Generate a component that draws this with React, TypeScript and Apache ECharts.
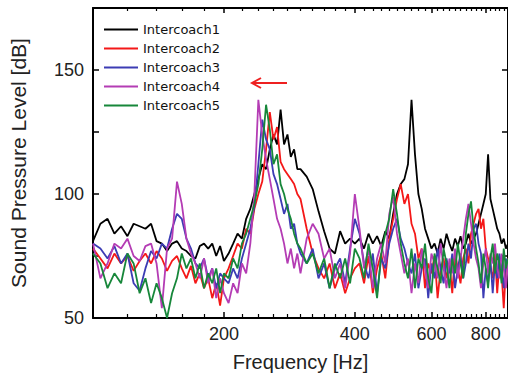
import React, { useEffect, useRef } from 'react';
import * as echarts from 'echarts';

// Frequency grid (Hz)
const freqHz = [
  100, 104, 108, 112, 116, 120, 124, 128, 132, 136, 140, 144, 148, 152, 156, 160, 164, 168, 172, 176, 180, 184, 188, 192, 196, 200,
  205, 210, 215, 220, 225, 230, 235, 240, 245, 250, 255, 260, 265, 270, 275, 280, 285, 290, 295, 300,
  310, 320, 330, 340, 350, 360, 370, 380, 390, 400,
  410, 420, 430, 440, 450, 460, 470, 480, 490, 500, 510, 520, 530, 540, 550, 560, 570, 580, 590, 600,
  610, 620, 630, 640, 650, 660, 670, 680, 690, 700, 710, 720, 730, 740, 750, 760, 770, 780, 790, 800,
  810, 820, 830, 840, 850, 860, 870, 880, 890, 900,
];

// Sound pressure level (dB)
const intercoach1 = [
  81, 88, 90, 84, 87, 83, 88, 87, 86, 88, 81, 80, 77, 80, 81, 78, 77, 75, 74, 79, 80, 78, 80, 75, 79, 73,
  76, 80, 84, 82, 90, 94, 100, 106, 112, 110, 118, 124, 120, 134, 120, 124, 115, 118, 110, 110,
  107, 102, 93, 85, 78, 76, 85, 80, 82, 80,
  82, 78, 84, 80, 83, 79, 85, 82, 92, 100, 104, 106, 112, 138, 116, 100, 94, 86, 82, 78,
  80, 76, 82, 78, 84, 80, 77, 82, 79, 83, 78, 80, 84, 80, 82, 84, 88, 92, 96, 100,
  116, 98, 94, 90, 86, 84, 80, 82, 78, 80,
];
const intercoach2 = [
  78, 74, 70, 76, 72, 75, 69, 73, 76, 72, 77, 74, 69, 73, 75, 70, 66, 71, 64, 68, 62, 66, 58, 64, 55, 66,
  70, 75, 80, 78, 86, 84, 94, 100, 105, 118, 133, 122, 127, 113, 110, 108, 106, 104, 100, 98,
  86, 76, 70, 66, 72, 62, 68, 60, 66, 70,
  72, 64, 75, 60, 70, 76, 66, 82, 90, 98, 104, 96, 100, 88, 84, 74, 78, 62, 72, 68,
  75, 58, 70, 74, 66, 72, 60, 76, 70, 64, 74, 78, 72, 84, 88, 92, 94, 86, 90, 78,
  74, 70, 66, 76, 60, 72, 68, 54, 70, 74,
];
const intercoach3 = [
  80, 78, 74, 79, 72, 76, 64, 61, 70, 77, 74, 80, 78, 86, 92, 90, 82, 78, 72, 70, 74, 66, 70, 62, 68, 66,
  64, 70, 66, 74, 80, 86, 95, 112, 130, 122, 118, 108, 104, 98, 92, 96, 86, 88, 80, 76,
  72, 78, 66, 72, 62, 70, 74, 64, 78, 90,
  84, 72, 66, 76, 60, 74, 70, 80, 86, 90, 82, 78, 72, 68, 76, 62, 70, 74, 58, 72,
  66, 78, 70, 64, 74, 68, 76, 62, 70, 76, 66, 72, 80, 74, 86, 88, 80, 76, 58, 70,
  64, 74, 60, 72, 66, 76, 70, 62, 74, 68,
];
const intercoach4 = [
  80, 66, 72, 80, 78, 82, 75, 73, 79, 80, 72, 54, 78, 82, 105, 96, 82, 76, 72, 66, 74, 64, 70, 58, 66, 60,
  56, 64, 60, 72, 68, 80, 100, 138, 124, 114, 106, 98, 90, 86, 80, 72, 78, 70, 76, 68,
  82, 88, 84, 74, 78, 66, 72, 62, 76, 100,
  86, 70, 78, 62, 74, 80, 72, 92, 99, 84, 76, 68, 74, 60, 72, 64, 78, 70, 62, 76,
  72, 66, 80, 70, 62, 74, 68, 78, 66, 74, 82, 90, 96, 88, 80, 74, 70, 62, 72, 78,
  68, 76, 72, 80, 70, 66, 76, 70, 62, 72,
];
const intercoach5 = [
  76, 72, 62, 68, 64, 76, 72, 60, 66, 56, 64, 58, 50, 60, 66, 76, 70, 74, 66, 72, 62, 68, 64, 70, 60, 68,
  66, 74, 70, 80, 84, 90, 96, 104, 118, 136, 126, 112, 116, 104, 100, 94, 90, 84, 80, 78,
  72, 76, 68, 74, 62, 72, 66, 74, 64, 78,
  74, 66, 80, 70, 58, 76, 84, 90, 102, 92, 80, 72, 66, 78, 62, 74, 70, 80, 66, 60,
  76, 70, 64, 78, 72, 62, 74, 68, 80, 72, 66, 84, 92, 97, 86, 78, 72, 64, 76, 70,
  62, 74, 80, 68, 76, 72, 64, 78, 70, 74,
];

const seriesNames = ['Intercoach1', 'Intercoach2', 'Intercoach3', 'Intercoach4', 'Intercoach5'];
const seriesValues = [intercoach1, intercoach2, intercoach3, intercoach4, intercoach5];
const seriesColors = ['#000000', '#f41818', '#3c3cb4', '#b43cb4', '#17873a'];

const xMajorTicks = [200, 400, 600, 800];
const xMinorTicks = [
  120, 140, 160, 180, 220, 240, 260, 280, 300, 320, 340, 360, 380,
  420, 440, 460, 480, 500, 520, 540, 560, 580, 620, 640, 660, 680, 700, 720, 740, 760, 780,
  820, 840, 860, 880, 900,
];
const yLabelValues = [50, 100, 150];

const FONT = 'Liberation Sans, Arial, sans-serif';

export default function App() {
  const ref = useRef<HTMLDivElement>(null);
  useEffect(() => {
    if (!ref.current) return;
    const chart = echarts.init(ref.current, undefined, { renderer: 'svg' });
    const xBase = { type: 'log', logBase: 10, min: 100, max: 900, gridIndex: 0, splitLine: { show: false }, minorTick: { show: false } };
    const axisLineStyle = { show: true, lineStyle: { color: '#000', width: 2 } };
    const option: any = {
      animation: false,
      backgroundColor: '#fff',
      grid: { left: 91, top: 8, width: 418, height: 310 },
      legend: {
        data: seriesNames,
        orient: 'vertical',
        left: 99,
        top: 18,
        itemWidth: 34,
        itemHeight: 2,
        itemGap: 6,
        icon: 'rect',
        textStyle: { fontFamily: 'DejaVu Sans, sans-serif', fontSize: 13, color: '#111' },
      },
      xAxis: [
        {
          ...xBase,
          position: 'bottom',
          axisLine: axisLineStyle,
          axisTick: { show: true, inside: true, length: 6, customValues: xMajorTicks, lineStyle: { color: '#000', width: 1.5 } },
          axisLabel: { customValues: xMajorTicks, fontFamily: FONT, fontSize: 18, color: '#222', margin: 7 },
          name: 'Frequency [Hz]',
          nameLocation: 'middle',
          nameGap: 34,
          nameTextStyle: { fontFamily: FONT, fontSize: 20, color: '#222' },
        },
        {
          ...xBase,
          position: 'bottom',
          axisLine: { show: false },
          axisTick: { show: true, inside: true, length: 4, customValues: xMinorTicks, lineStyle: { color: '#000', width: 1.2 } },
          axisLabel: { show: false },
        },
        {
          ...xBase,
          position: 'top',
          axisLine: axisLineStyle,
          axisTick: { show: true, inside: true, length: 5, customValues: xMajorTicks, lineStyle: { color: '#000', width: 1.5 } },
          axisLabel: { show: false },
        },
        {
          ...xBase,
          position: 'top',
          axisLine: { show: false },
          axisTick: { show: true, inside: true, length: 3, customValues: xMinorTicks, lineStyle: { color: '#000', width: 1.2 } },
          axisLabel: { show: false },
        },
      ],
      yAxis: [
        {
          type: 'value',
          min: 50,
          max: 175,
          interval: 25,
          position: 'left',
          splitLine: { show: false },
          axisLine: axisLineStyle,
          axisTick: { show: true, inside: true, length: 6, lineStyle: { color: '#000', width: 1.5 } },
          axisLabel: {
            fontFamily: FONT,
            fontSize: 18,
            color: '#222',
            margin: 9,
            formatter: (v: number) => (yLabelValues.includes(v) ? String(v) : ''),
          },
          name: 'Sound Pressure Level [dB]',
          nameLocation: 'middle',
          nameGap: 64,
          nameTextStyle: { fontFamily: FONT, fontSize: 21, color: '#222' },
        },
        {
          type: 'value',
          min: 50,
          max: 175,
          interval: 25,
          position: 'right',
          splitLine: { show: false },
          axisLine: axisLineStyle,
          axisTick: { show: true, inside: true, length: 6, lineStyle: { color: '#000', width: 1.5 } },
          axisLabel: { show: false },
        },
      ],
      series: seriesNames.map((name, i) => ({
        name,
        type: 'line',
        xAxisIndex: 0,
        yAxisIndex: 0,
        showSymbol: false,
        symbol: 'none',
        color: seriesColors[i],
        lineStyle: { width: 1.8, color: seriesColors[i] },
        data: freqHz.map((f, k) => [f, seriesValues[i][k]]),
      })),
      graphic: [
        { type: 'line', shape: { x1: 287, y1: 83, x2: 253, y2: 83 }, style: { stroke: '#ee2020', lineWidth: 2 } },
        {
          type: 'polyline',
          shape: { points: [[261, 78], [252, 83], [261, 88]] },
          style: { stroke: '#ee2020', lineWidth: 2, fill: null },
        },
      ],
    };
    chart.setOption(option);
    return () => chart.dispose();
  }, []);
  return <div ref={ref} style={{ position: 'fixed', left: 0, top: 0, width: 508, height: 380, background: '#fff' }} />;
}
